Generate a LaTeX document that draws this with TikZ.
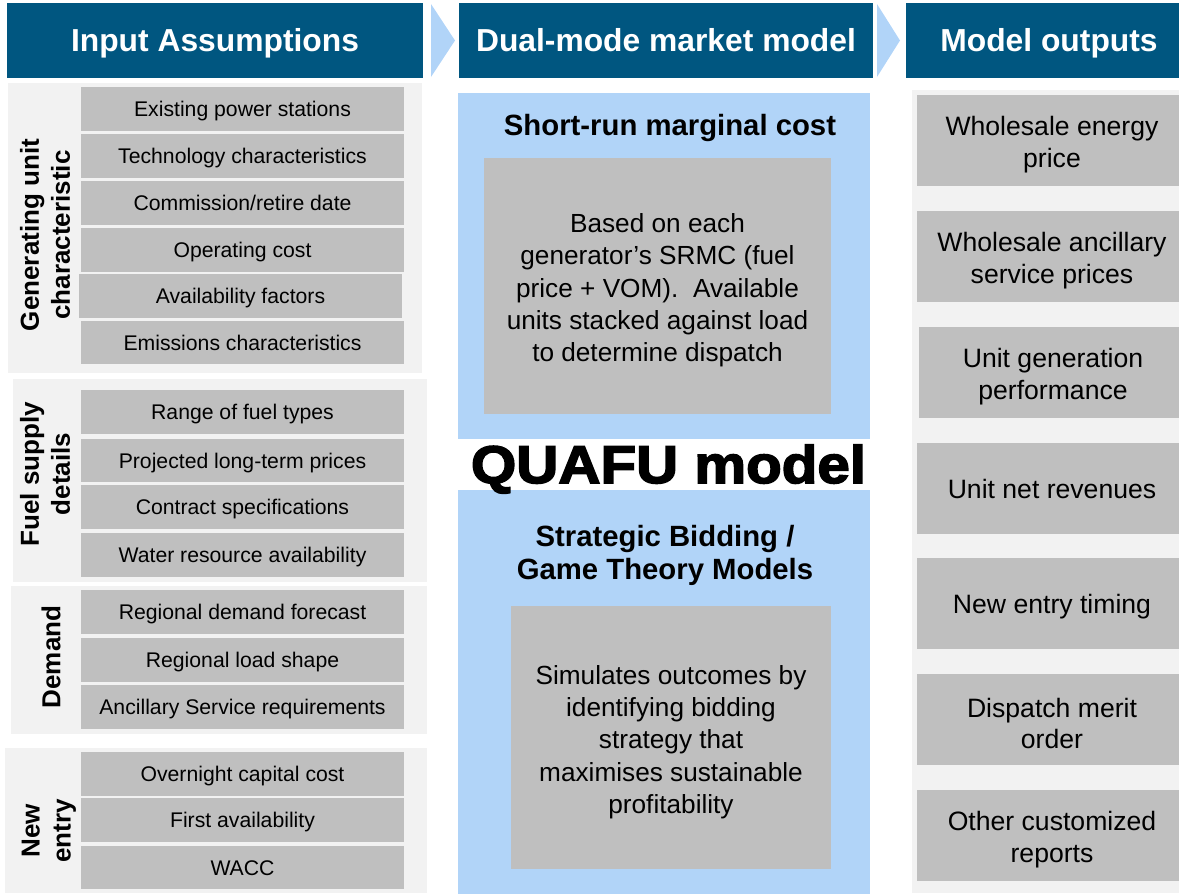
\documentclass[tikz,border=0pt]{standalone}
\usepackage{fontspec}
\setmainfont{Liberation Sans}
\newfontfamily\heavyfont[FakeStretch=1.1,FakeBold=3]{Liberation Sans}

\definecolor{hdrblue}{RGB}{0,86,128}
\definecolor{chevblue}{RGB}{177,212,248}
\definecolor{panelgray}{RGB}{242,242,242}
\definecolor{cellgray}{RGB}{191,191,191}

% a plain box given by its top-left and bottom-right corners
\newcommand{\pane}[6]{\node[#2, minimum width={#5-#3}, minimum height={#6-#4}] (#1) at (#3,#4) {};}
% the same box with a text node set at its centre
\newcommand{\blk}[8]{%
  \node[#2, minimum width={#5-#3}, minimum height={#6-#4}] (#1) at (#3,#4) {};
  \node[#7] (#1text) at (#1.center) {#8};}

\tikzset{
  box/.style={anchor=north west, inner sep=0pt, outer sep=0pt, draw=none},
  header/.style={box, fill=hdrblue},
  panel/.style={box, fill=panelgray},
  modelpanel/.style={box, fill=chevblue},
  band/.style={box, fill=white},
  cell/.style={box, fill=cellgray},
  hdrtext/.style={inner sep=0pt, text=white, text height=22.9pt, text depth=0pt,
    font=\fontsize{31.8}{36}\selectfont\bfseries},
  celltext/.style={inner sep=0pt, text height=15.3pt, text depth=0pt,
    font=\fontsize{21.2}{25}\selectfont},
  outtext/.style={inner sep=0pt, align=center, yshift=-4pt,
    font=\fontsize{26.6}{31.5}\selectfont},
  outline/.style={inner sep=0pt, text height=19.2pt, text depth=0pt,
    font=\fontsize{26.6}{31.5}\selectfont},
  bodytext/.style={inner sep=0pt, align=center, yshift=-4.5pt,
    font=\fontsize{26.2}{32.3}\selectfont},
  grouplabel/.style={rotate=90, align=center, inner sep=0pt, font=\fontsize{26}{31}\selectfont\bfseries},
  modetitle/.style={align=center, inner sep=0pt, font=\fontsize{29.3}{33}\selectfont\bfseries},
  chevron/.style={fill=chevblue},
}

\begin{document}
\begin{tikzpicture}[x=1pt,y=-1pt]
\useasboundingbox (0,0) rectangle (1179,894);

% column headers
\blk{hin}{header}{7}{3}{423}{78}{hdrtext}{Input Assumptions}
\blk{hmid}{header}{459}{3}{873}{78}{hdrtext}{Dual-mode market model}
\blk{hout}{header}{906}{3}{1192}{78}{hdrtext}{Model outputs}
\fill[chevron] (431,4) -- (455,40.5) -- (431,77) -- cycle;
\fill[chevron] (877,4) -- (900,40.5) -- (877,77) -- cycle;

% input groups
\pane{pgen}{panel}{8}{83}{422}{373}
\pane{pfuel}{panel}{13}{379}{427}{582}
\pane{pdem}{panel}{11}{586}{427}{734}
\pane{pnew}{panel}{5}{748}{427}{893}

\node[grouplabel] (lgen) at (45,235) {Generating unit\\characteristic};
\node[grouplabel] (lfuel) at (45,474) {Fuel supply\\details};
\node[grouplabel] (ldem) at (51,657) {Demand};
\node[grouplabel] (lnew) at (49,831) {New\\entry};

\blk{i1}{cell}{81}{87}{404}{131}{celltext}{Existing power stations}
\blk{i2}{cell}{81}{134}{404}{178}{celltext}{Technology characteristics}
\blk{i3}{cell}{81}{181}{404}{225}{celltext}{Commission/retire date}
\blk{i4}{cell}{81}{228}{404}{272}{celltext}{Operating cost}
\blk{i5}{cell}{79}{274}{402}{318}{celltext}{Availability factors}
\blk{i6}{cell}{81}{321}{404}{364}{celltext}{Emissions characteristics}
\blk{i7}{cell}{81}{390}{404}{434}{celltext}{Range of fuel types}
\blk{i8}{cell}{81}{439}{404}{482}{celltext}{Projected long-term prices}
\blk{i9}{cell}{81}{485}{404}{529}{celltext}{Contract specifications}
\blk{i10}{cell}{81}{533}{404}{577}{celltext}{Water resource availability}
\blk{i11}{cell}{81}{590}{404}{634}{celltext}{Regional demand forecast}
\blk{i12}{cell}{81}{638}{404}{682}{celltext}{Regional load shape}
\blk{i13}{cell}{81}{685}{404}{729}{celltext}{Ancillary Service requirements}
\blk{i14}{cell}{81}{752}{404}{796}{celltext}{Overnight capital cost}
\blk{i15}{cell}{81}{798}{404}{842}{celltext}{First availability}
\blk{i16}{cell}{81}{846}{404}{889}{celltext}{WACC}

% dual-mode model
\pane{msrmc}{modelpanel}{458}{93}{870}{439}
\pane{mband}{band}{458}{439}{870}{490}
\pane{mgame}{modelpanel}{458}{490}{870}{894}

\node[modetitle, anchor=base] (tsrmc) at (670,135) {Short-run marginal cost};
\blk{dsrmc}{cell}{484}{158}{831}{414}{bodytext}{Based on each\\generator’s SRMC (fuel\\price + VOM).\ \ Available\\units stacked against load\\to determine dispatch}

\node[inner sep=0pt, anchor=base, font=\heavyfont\bfseries\fontsize{53}{60}\selectfont] (quafu) at (668.5,483) {QUAFU model};

\node[modetitle] (tgame) at (665,555) {Strategic Bidding /\\Game Theory Models};
\blk{dgame}{cell}{511}{606}{831}{869}{bodytext}{Simulates outcomes by\\identifying bidding\\strategy that\\maximises sustainable\\profitability}

% outputs
\pane{pout}{panel}{912}{90}{1190}{893}
\blk{o1}{cell}{917}{95}{1187}{186}{outtext}{Wholesale energy\\price}
\blk{o2}{cell}{917}{211}{1187}{302}{outtext}{Wholesale ancillary\\service prices}
\blk{o3}{cell}{919}{327}{1187}{418}{outtext}{Unit generation\\performance}
\blk{o4}{cell}{917}{443}{1187}{534}{outline}{Unit net revenues}
\blk{o5}{cell}{917}{558}{1187}{649}{outline}{New entry timing}
\blk{o6}{cell}{917}{674}{1187}{765}{outtext}{Dispatch merit\\order}
\blk{o7}{cell}{917}{790}{1187}{881}{outtext}{Other customized\\reports}
\end{tikzpicture}
\end{document}
